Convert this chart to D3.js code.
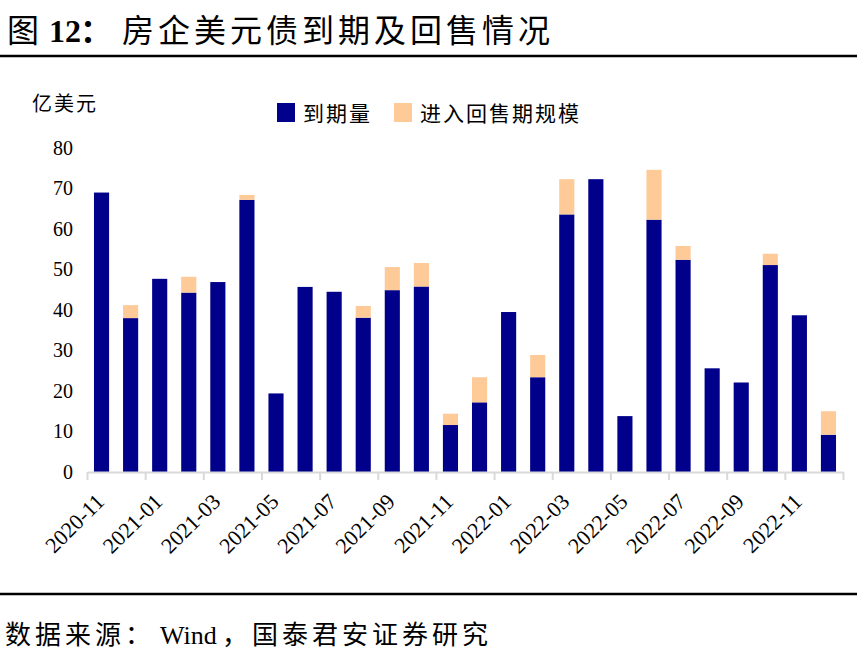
<!DOCTYPE html>
<html>
<head>
<meta charset="utf-8">
<script src="https://cdn.jsdelivr.net/npm/d3@7"></script>
<style>
  body { margin: 0; background: #fff; }
  text { font-family: "Liberation Serif", "Noto Sans CJK SC", serif; fill: #000; }
</style>
</head>
<body>
<svg id="chart" width="857" height="659"></svg>
<script>
// months shown on the category axis
var months = ["2020-11","2020-12","2021-01","2021-02","2021-03","2021-04","2021-05","2021-06",
  "2021-07","2021-08","2021-09","2021-10","2021-11","2021-12","2022-01","2022-02","2022-03",
  "2022-04","2022-05","2022-06","2022-07","2022-08","2022-09","2022-10","2022-11","2022-12"];
// 到期量 (亿美元)
var maturity = [69, 38, 47.7, 44.3, 46.9, 67.2, 19.4, 45.7, 44.5, 38.1, 44.9, 45.8, 11.6,
  17.2, 39.5, 23.4, 63.6, 72.3, 13.8, 62.3, 52.4, 25.6, 22.1, 51.1, 38.7, 9.2];
// 进入回售期规模 (stacked on top)
var putable = [0, 3.2, 0, 3.9, 0, 1.2, 0, 0, 0, 2.9, 5.7, 5.8, 2.8, 6.2, 0, 5.5, 8.7, 0, 0,
  12.3, 3.4, 0, 0, 2.8, 0, 5.8];
var yTicks = [0, 10, 20, 30, 40, 50, 60, 70, 80];
var seriesNames = ["到期量", "进入回售期规模"];
var colors = ["#00008a", "#fdca98"];

var svg = d3.select("#chart");

// title
var title = svg.append("text").attr("y", 42).style("font-size", "32px");
title.append("tspan").attr("x", 7).text("图");
title.append("tspan").attr("x", 49).style("font-weight", "bold").text("12");
title.append("tspan").attr("x", 80).style("font-weight", "bold").text("：");
title.append("tspan").attr("x", 122).style("letter-spacing", "4px").text("房企美元债到期及回售情况");

svg.append("line").attr("x1", 0).attr("x2", 857).attr("y1", 56).attr("y2", 56)
  .attr("stroke", "#000").attr("stroke-width", 2.5);

// unit label
svg.append("text").attr("x", 32).attr("y", 111).style("font-size", "20px")
  .style("letter-spacing", "2px").text("亿美元");

// scales
var x = d3.scaleBand().domain(months).range([87, 843]).paddingInner(0.48).paddingOuter(0.24);
var y = d3.scaleLinear().domain([0, 80]).range([472, 148]);

// stacked data
var table = months.map((m, i) => ({ month: m, a: maturity[i], b: putable[i] }));
var stacked = d3.stack().keys(["a", "b"])(table);

svg.append("g")
  .selectAll("g")
  .data(stacked)
  .enter()
  .append("g")
  .attr("fill", (d, i) => colors[i])
  .selectAll("rect")
  .data((d) => d)
  .enter()
  .append("rect")
  .attr("x", (d) => x(d.data.month))
  .attr("width", x.bandwidth())
  .attr("y", (d) => y(d[1]))
  .attr("height", (d) => y(d[0]) - y(d[1]));

// y labels (no axis line)
svg.append("g")
  .selectAll("text")
  .data(yTicks)
  .enter()
  .append("text")
  .attr("x", 73)
  .attr("y", (d) => y(d))
  .attr("dy", "0.34em")
  .attr("text-anchor", "end")
  .style("font-size", "20px")
  .text((d) => d);

// x axis: line with ticks at every second category boundary
var idx = d3.scaleLinear().domain([0, months.length]).range([87, 843]);
var xAxis = svg.append("g")
  .attr("transform", "translate(0,472)")
  .call(d3.axisBottom(idx).tickValues(d3.range(0, months.length + 1, 2))
    .tickSize(8).tickSizeOuter(0).tickFormat(""));
xAxis.select(".domain").attr("stroke", "#d9d9d9").attr("stroke-width", 2);
xAxis.selectAll(".tick line").attr("stroke", "#d9d9d9").attr("stroke-width", 2);

svg.append("g")
  .selectAll("text")
  .data(months.filter((m, i) => i % 2 === 0))
  .enter()
  .append("text")
  .attr("text-anchor", "end")
  .attr("transform", (d) => "translate(" + (x(d) + x.bandwidth() / 2 + 4) + ",503) rotate(-45)")
  .style("font-size", "22px")
  .text((d) => d);

// legend
var legend = svg.append("g");
var legendX = [277, 394];
seriesNames.forEach((name, i) => {
  legend.append("rect").attr("x", legendX[i]).attr("y", 103).attr("width", 18).attr("height", 19)
    .attr("fill", colors[i]);
  legend.append("text").attr("x", legendX[i] + 26).attr("y", 121)
    .style("font-size", "21px").style("letter-spacing", "2px").text(name);
});

// footer
svg.append("line").attr("x1", 0).attr("x2", 857).attr("y1", 594).attr("y2", 594)
  .attr("stroke", "#000").attr("stroke-width", 2.5);
var source = svg.append("text").attr("y", 644).style("font-size", "26px");
source.append("tspan").attr("x", 5).style("letter-spacing", "4px").text("数据来源：");
source.append("tspan").attr("x", 160).text("Wind");
source.append("tspan").attr("x", 222).style("letter-spacing", "4px").text("，国泰君安证券研究");
</script>
</body>
</html>
